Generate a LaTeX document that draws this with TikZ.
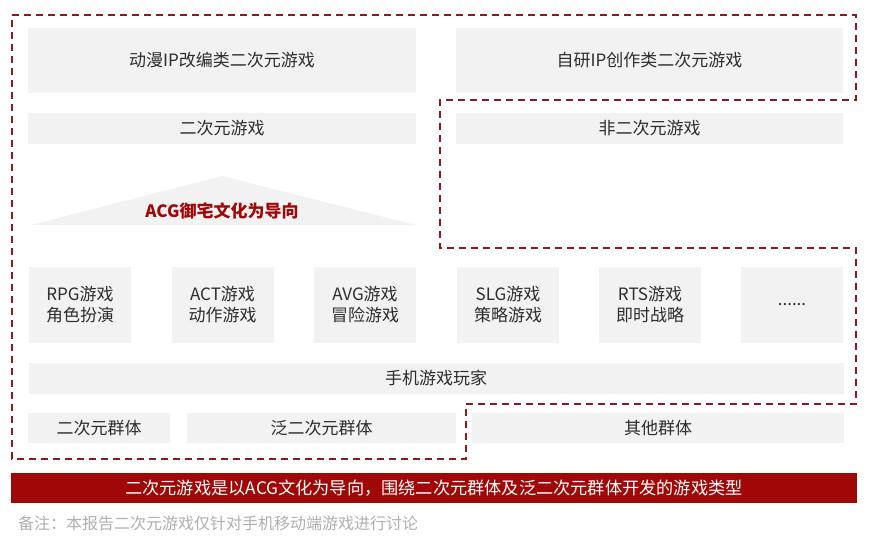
\documentclass[tikz,border=0pt]{standalone}
\usepackage{fontspec}
\setmainfont{Noto Sans CJK SC}
\usetikzlibrary{positioning}
\definecolor{boxgray}{RGB}{242,242,242}
\definecolor{txtgray}{RGB}{45,45,45}
\definecolor{barred}{RGB}{160,8,8}
\definecolor{dashred}{RGB}{140,25,30}
\definecolor{notegray}{RGB}{175,175,175}
\tikzset{
  greybox/.style={fill=boxgray, text=txtgray, inner sep=0pt, align=center,
    font=\fontsize{17}{21}\selectfont},
  genrebox/.style={greybox, minimum width=102pt, minimum height=76pt},
  outline/.style={draw=dashred, line width=1.8pt, dash pattern=on 7pt off 5pt},
}

\begin{document}
\begin{tikzpicture}[x=1pt,y=-1pt]
        \useasboundingbox (0,0) rectangle (880,540);
        %Boites du haut
        \node [greybox, minimum width=388pt, minimum height=65pt] (dongman) at (222,60.5) {动漫IP改编类二次元游戏};
        \node [greybox, minimum width=387pt, minimum height=65pt] (ziyan) at (649.5,60.5) {自研IP创作类二次元游戏};
        \node [greybox, minimum width=388pt, minimum height=31pt] (erci) at (222,128.5) {二次元游戏};
        \node [greybox, minimum width=387pt, minimum height=31pt] (feierci) at (649.5,128.5) {非二次元游戏};
        %Triangle
        \fill [boxgray] (31,225) -- (222,176) -- (416,225) -- cycle;
        \node [text=barred, font=\fontsize{17}{20}\selectfont\bfseries] (acg) at (222,211) {ACG御宅文化为导向};
        %Genres
        \node [genrebox] (rpg) at (80,304.5) {RPG游戏\\角色扮演};
        \node [genrebox] (act) at (222.5,304.5) {ACT游戏\\动作游戏};
        \node [genrebox] (avg) at (365,304.5) {AVG游戏\\冒险游戏};
        \node [genrebox] (slg) at (508,304.5) {SLG游戏\\策略游戏};
        \node [genrebox] (rts) at (650,304.5) {RTS游戏\\即时战略};
        \node [genrebox] (etc) at (792,304.5) {......};
        %Joueurs
        \node [greybox, minimum width=815pt, minimum height=31pt] (wanjia) at (436,378) {手机游戏玩家};
        \node [greybox, minimum width=142pt, minimum height=30pt] (qunti) at (99,428) {二次元群体};
        \node [greybox, minimum width=269pt, minimum height=30pt] (fan) at (321.5,428) {泛二次元群体};
        \node [greybox, minimum width=372pt, minimum height=30pt] (qita) at (658,428) {其他群体};
        %Contour pointille
        \draw [outline] (12,15) -- (856,15) -- (856,100) -- (440,100) -- (440,248) -- (856,248) -- (856,404) -- (466,404) -- (466,459) -- (12,459) -- cycle;
        %Bandeau + note
        \node [fill=barred, text=white, minimum width=846pt, minimum height=30pt, inner sep=0pt, font=\fontsize{17.2}{20}\selectfont] (bandeau) at (434,488) {二次元游戏是以ACG文化为导向，围绕二次元群体及泛二次元群体开发的游戏类型};
        \node [anchor=west, text=notegray, inner sep=0pt, font=\fontsize{16}{19}\selectfont] (note) at (18,523) {备注：本报告二次元游戏仅针对手机移动端游戏进行讨论};
\end{tikzpicture}
\end{document}
